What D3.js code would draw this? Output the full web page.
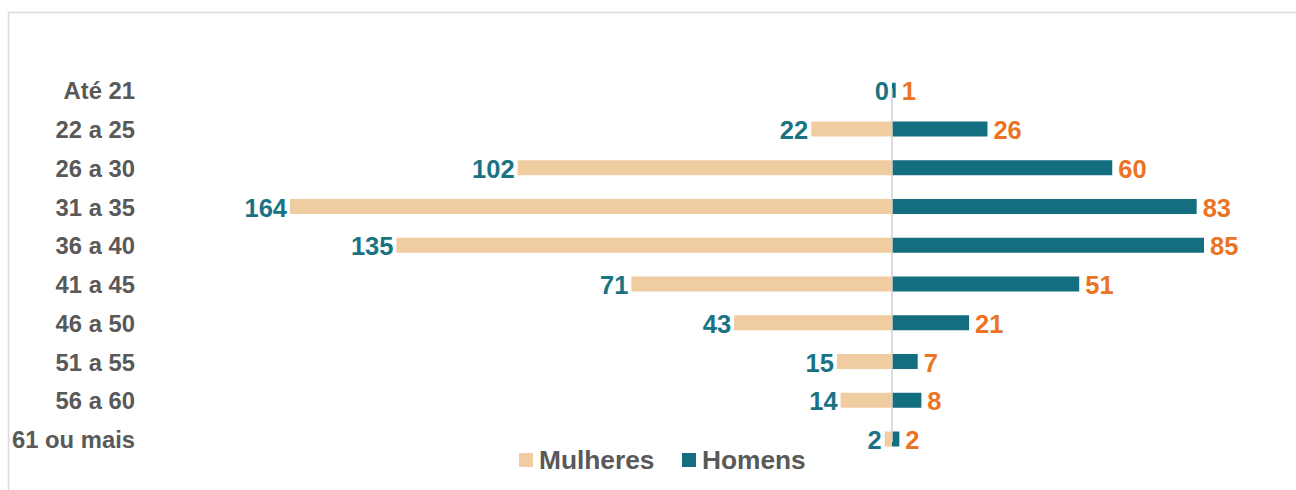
<!DOCTYPE html>
<html>
<head>
<meta charset="utf-8">
<script src="https://cdn.jsdelivr.net/npm/d3@7"></script>
<style>
  html, body { margin: 0; padding: 0; background: #ffffff; }
  svg { display: block; font-family: "Liberation Sans", Arial, sans-serif; }
</style>
</head>
<body>
<svg id="chart" width="1296" height="490"></svg>
<script>
const categories = ["Até 21", "22 a 25", "26 a 30", "31 a 35", "36 a 40", "41 a 45", "46 a 50", "51 a 55", "56 a 60", "61 ou mais"];
const mulheres = [0, 22, 102, 164, 135, 71, 43, 15, 14, 2];
const homens = [1, 26, 60, 83, 85, 51, 21, 7, 8, 2];
const seriesNames = ["Mulheres", "Homens"];

const colW = "#f0cda0";
const colM = "#136f80";
const colLabelW = "#1a7383";
const colLabelM = "#eb7424";
const colText = "#595959";

const svg = d3.select("#chart");

// outer frame
svg.append("path")
  .attr("d", "M8.5,490 L8.5,12.5 L1296,12.5")
  .attr("fill", "none").attr("stroke", "#d9d9d9").attr("stroke-width", 1.5);

const x = d3.scaleLinear().domain([-164, 0]).range([290, 892]);
const y = d3.scalePoint().domain(categories).range([90.25, 439]);
const barH = 15;

const rows = categories.map((c, i) => ({ cat: c, w: mulheres[i], m: homens[i] }));

// bars
svg.append("g").selectAll("rect.w").data(rows).join("rect")
  .attr("x", d => x(-d.w)).attr("width", d => x(0) - x(-d.w))
  .attr("y", d => y(d.cat) - barH / 2).attr("height", barH)
  .attr("fill", colW);
svg.append("g").selectAll("rect.m").data(rows).join("rect")
  .attr("x", x(0)).attr("width", d => x(d.m) - x(0))
  .attr("y", d => y(d.cat) - barH / 2).attr("height", barH)
  .attr("fill", colM);

// center axis line
svg.append("line")
  .attr("x1", x(0)).attr("x2", x(0))
  .attr("y1", y(categories[0]) - 2).attr("y2", y(categories[categories.length - 1]) + 3)
  .attr("stroke", "#d0d0d0").attr("stroke-width", 1.5);

// category axis labels
const yAxis = d3.axisLeft(y).tickSize(0).tickPadding(0);
const gy = svg.append("g").attr("transform", "translate(135,0)").call(yAxis);
gy.select(".domain").remove();
gy.selectAll("text")
  .attr("font-family", "'Liberation Sans', Arial, sans-serif")
  .attr("font-size", 23.8).attr("font-weight", "bold").attr("fill", colText)
  .attr("dy", "0.36em");

// data labels
svg.append("g").selectAll("text").data(rows).join("text")
  .attr("x", d => x(-d.w) - 3).attr("y", d => y(d.cat) + 1)
  .attr("dy", "0.36em").attr("text-anchor", "end")
  .attr("font-size", 25.5).attr("font-weight", "bold").attr("fill", colLabelW)
  .text(d => d.w);
svg.append("g").selectAll("text").data(rows).join("text")
  .attr("x", d => x(d.m) + 6).attr("y", d => y(d.cat) + 1)
  .attr("dy", "0.36em").attr("text-anchor", "start")
  .attr("font-size", 25.5).attr("font-weight", "bold").attr("fill", colLabelM)
  .text(d => d.m);

// legend
const legend = svg.append("g");
const legItems = [
  { name: seriesNames[0], color: colW, x: 519 },
  { name: seriesNames[1], color: colM, x: 682 }
];
legItems.forEach(it => {
  legend.append("rect").attr("x", it.x).attr("y", 453).attr("width", 14).attr("height", 14).attr("fill", it.color);
  legend.append("text").attr("x", it.x + 20).attr("y", 469)
    .attr("font-size", 26.3).attr("font-weight", "bold").attr("fill", colText)
    .text(it.name);
});
</script>
</body>
</html>
